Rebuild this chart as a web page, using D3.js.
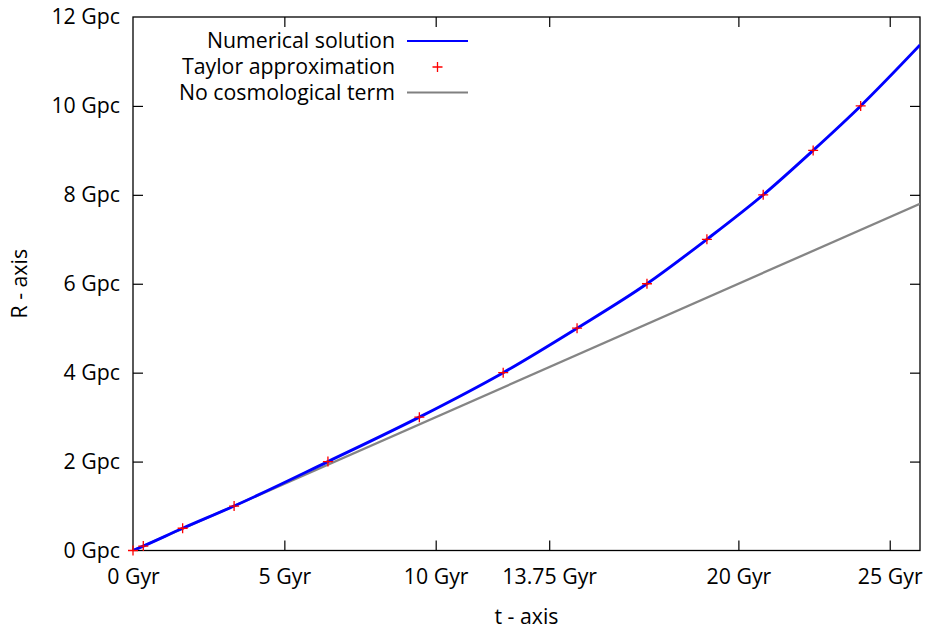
<!DOCTYPE html>
<html>
<head>
<meta charset="utf-8">
<script src="https://cdn.jsdelivr.net/npm/d3@7"></script>
<style>
  html, body { margin: 0; padding: 0; background: #fff; }
  svg { display: block; font-family: "Open Sans", sans-serif; }
</style>
</head>
<body>
<svg id="chart" width="927" height="629"></svg>
<script>
// Expansion of the cosmic scale R(t)
const numericalT = [0, 0.34, 1.64, 3.34, 6.44, 9.46, 12.23, 14.67, 16.98, 18.96, 20.82, 22.47, 24.04, 26];
const numericalR = [0, 0.10, 0.5, 1.0, 2.0, 3.0, 4.0, 5.0, 6.0, 7.0, 8.0, 9.0, 10.0, 11.37];

const taylorT = [0, 0.34, 1.64, 3.34, 6.44, 9.46, 12.23, 14.67, 16.98, 18.96, 20.82, 22.47, 24.04];
const taylorR = [0, 0.1, 0.5, 1, 2, 3, 4, 5, 6, 7, 8, 9, 10];

const noLambdaT = [0, 26];
const noLambdaR = [0, 7.8];

const xTicks = [0, 5, 10, 13.75, 20, 25];
const xTickLabels = ["0 Gyr", "5 Gyr", "10 Gyr", "13.75 Gyr", "20 Gyr", "25 Gyr"];
const yTicks = [0, 2, 4, 6, 8, 10, 12];
const yTickLabels = yTicks.map(v => v + " Gpc");

const seriesNames = ["Numerical solution", "Taylor approximation", "No cosmological term"];

const margin = { left: 133, right: 7, top: 17, bottom: 78.5 };
const W = 927, H = 629;
const svg = d3.select("#chart");

const x = d3.scaleLinear().domain([0, 26]).range([margin.left, W - margin.right]);
const y = d3.scaleLinear().domain([0, 12]).range([H - margin.bottom, margin.top]);

const fontSize = 21.3;
const fontFamily = "'Open Sans', sans-serif";
const tickLen = 10;

// Axes with mirrored inward ticks
const gx = svg.append("g").attr("transform", `translate(0,${y(0)})`)
  .call(d3.axisBottom(x).tickValues(xTicks).tickFormat((d, i) => xTickLabels[i]).tickSizeInner(-tickLen).tickSizeOuter(0).tickPadding(18));
const gxTop = svg.append("g").attr("transform", `translate(0,${y(12)})`)
  .call(d3.axisTop(x).tickValues(xTicks).tickFormat("").tickSizeInner(-tickLen).tickSizeOuter(0));
const gy = svg.append("g").attr("transform", `translate(${x(0)},0)`)
  .call(d3.axisLeft(y).tickValues(yTicks).tickFormat((d, i) => yTickLabels[i]).tickSizeInner(-tickLen).tickSizeOuter(0).tickPadding(13));
const gyRight = svg.append("g").attr("transform", `translate(${x(26)},0)`)
  .call(d3.axisRight(y).tickValues(yTicks).tickFormat("").tickSizeInner(-tickLen).tickSizeOuter(0));

[gx, gxTop, gy, gyRight].forEach(g => {
  g.select(".domain").remove();
  g.selectAll(".tick line").attr("stroke", "#000").attr("stroke-width", 1.2);
  g.selectAll("text").attr("font-size", fontSize).attr("fill", "#000").attr("font-family", fontFamily);
});
// Hide edge ticks that coincide with the frame
gx.selectAll(".tick").filter(d => d === 0).select("line").remove();
gxTop.selectAll(".tick").filter(d => d === 0).select("line").remove();
gy.selectAll(".tick").filter(d => d === 0 || d === 12).select("line").remove();
gyRight.selectAll(".tick").filter(d => d === 0 || d === 12).select("line").remove();

// Frame
svg.append("rect")
  .attr("x", x(0)).attr("y", y(12))
  .attr("width", x(26) - x(0)).attr("height", y(0) - y(12))
  .attr("fill", "none").attr("stroke", "#000").attr("stroke-width", 1.3);

// Axis titles
svg.append("text").attr("x", (x(0) + x(26)) / 2).attr("y", 617).attr("dy", "0.35em")
  .attr("text-anchor", "middle").attr("font-size", fontSize).attr("fill", "#000").attr("font-family", fontFamily)
  .text("t - axis");
svg.append("text").attr("transform", `translate(20,${(y(0) + y(12)) / 2}) rotate(-90)`).attr("dy", "0.35em")
  .attr("text-anchor", "middle").attr("font-size", fontSize).attr("fill", "#000").attr("font-family", fontFamily)
  .text("R - axis");

svg.append("clipPath").attr("id", "plotclip").append("rect")
  .attr("x", x(0)).attr("y", y(12)).attr("width", x(26) - x(0)).attr("height", y(0) - y(12));

const plot = svg.append("g").attr("clip-path", "url(#plotclip)");

// No cosmological term
plot.append("path")
  .datum(noLambdaT.map((t, i) => [t, noLambdaR[i]]))
  .attr("d", d3.line().x(d => x(d[0])).y(d => y(d[1])))
  .attr("fill", "none").attr("stroke", "#858585").attr("stroke-width", 2.3);

// Numerical solution
plot.append("path")
  .datum(numericalT.map((t, i) => [t, numericalR[i]]))
  .attr("d", d3.line().curve(d3.curveMonotoneX).x(d => x(d[0])).y(d => y(d[1])))
  .attr("fill", "none").attr("stroke", "#0000ff").attr("stroke-width", 2.9);

// Taylor approximation markers
const cross = 5;
const crossPath = (cx, cy) => `M${cx - cross},${cy}H${cx + cross}M${cx},${cy - cross}V${cy + cross}`;
svg.append("g").selectAll("path")
  .data(taylorT.map((t, i) => [t, taylorR[i]]))
  .join("path")
  .attr("d", d => crossPath(x(d[0]), y(d[1])))
  .attr("stroke", "#ff0000").attr("stroke-width", 1.3).attr("fill", "none");

// Legend
const legend = svg.append("g");
const rowsY = [41, 67, 92.5];
const textRight = 395, sampleX0 = 407, sampleX1 = 468;
seriesNames.forEach((name, i) => {
  legend.append("text").attr("x", textRight).attr("y", rowsY[i]).attr("dy", "0.35em")
    .attr("text-anchor", "end").attr("font-size", fontSize).attr("fill", "#000").attr("font-family", fontFamily).text(name);
});
legend.append("line").attr("x1", sampleX0).attr("x2", sampleX1).attr("y1", rowsY[0]).attr("y2", rowsY[0])
  .attr("stroke", "#0000ff").attr("stroke-width", 2);
legend.append("path").attr("d", crossPath((sampleX0 + sampleX1) / 2, rowsY[1]))
  .attr("stroke", "#ff0000").attr("stroke-width", 1.3).attr("fill", "none");
legend.append("line").attr("x1", sampleX0).attr("x2", sampleX1).attr("y1", rowsY[2]).attr("y2", rowsY[2])
  .attr("stroke", "#808080").attr("stroke-width", 2);
</script>
</body>
</html>
